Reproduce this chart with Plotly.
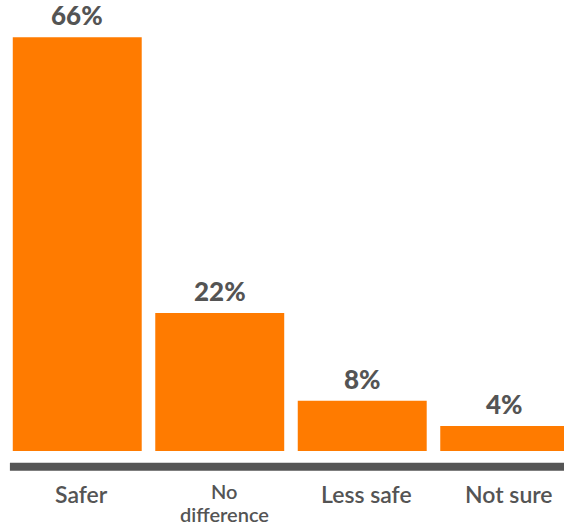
import plotly.graph_objects as go

# Survey responses
categories = ["Safer", "No<br>difference", "Less safe", "Not sure"]
values = [66, 22, 8, 4]

BAR_COLOR = "#FF7B00"
TEXT_COLOR = "#545454"
FONT = "Lato, 'Open Sans', sans-serif"

x_pos = list(range(len(categories)))

fig = go.Figure(
    go.Bar(
        x=x_pos,
        y=values,
        marker=dict(color=BAR_COLOR, line=dict(width=0)),
        width=0.905,
        hoverinfo="skip",
    )
)

annotations = []
for xi, v in zip(x_pos, values):
    annotations.append(
        dict(
            x=xi, y=v, xref="x", yref="y",
            text=f"{v}%",
            showarrow=False, yanchor="bottom", yshift=4,
            font=dict(family=FONT, size=26, color=TEXT_COLOR, weight=900),
        )
    )

# Category labels: each line placed on its own for tight line spacing
LINE_GAP = 23  # px between label lines
for xi, cat in zip(x_pos, categories):
    lines = cat.split("<br>")
    size = 23 if len(lines) == 1 else 20
    first_shift = 0 if len(lines) == 1 else 3
    for k, line in enumerate(lines):
        annotations.append(
            dict(
                x=xi + 0.03, y=-6.8, xref="x", yref="y",
                text=line,
                showarrow=False, yanchor="middle",
                yshift=first_shift - k * LINE_GAP,
                font=dict(family=FONT, size=size, color=TEXT_COLOR, weight=600),
            )
        )

# Thick baseline under the bars
fig.add_shape(
    type="line", xref="paper", yref="y",
    x0=0.007, x1=1.0, y0=-2.5, y1=-2.5,
    line=dict(color="#555555", width=8),
)

fig.update_layout(
    width=564, height=527,
    margin=dict(l=6, r=0, t=0, b=0),
    paper_bgcolor="white", plot_bgcolor="white",
    showlegend=False,
    annotations=annotations,
    xaxis=dict(range=[-0.5, 3.416], showgrid=False, zeroline=False,
               showticklabels=False, ticks="", fixedrange=True),
    yaxis=dict(range=[-12.12, 71.93], showgrid=False, zeroline=False,
               showticklabels=False, ticks="", fixedrange=True),
)

fig.write_html("out.html")
